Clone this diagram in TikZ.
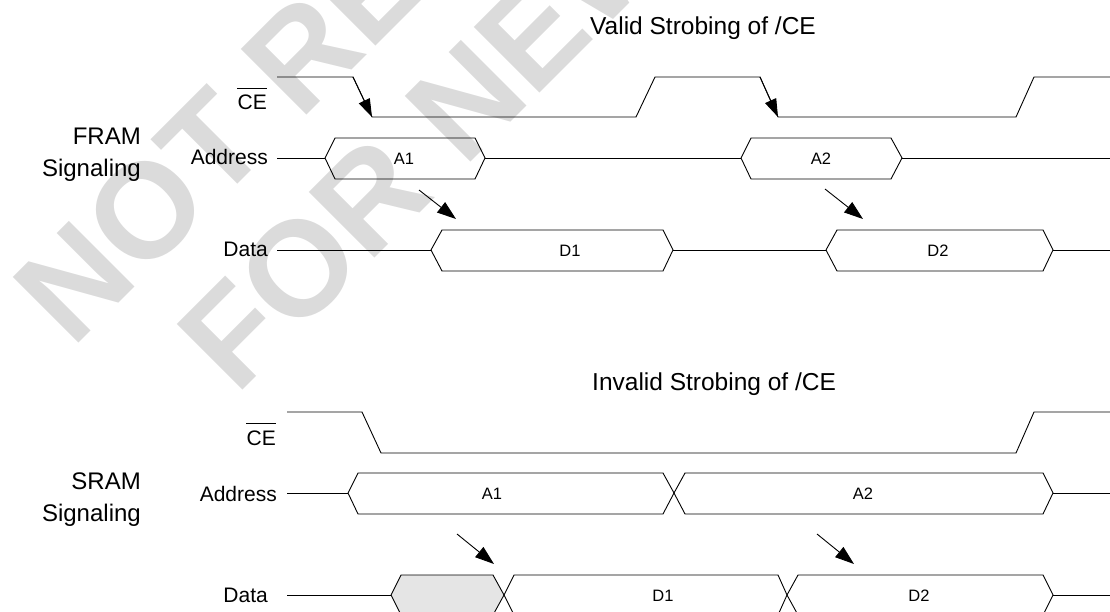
\documentclass[tikz,border=0pt]{standalone}
\usepackage{fontspec}
\setmainfont{Liberation Sans}
\usetikzlibrary{arrows.meta}
\begin{document}
\begin{tikzpicture}[x=1pt,y=-1pt,
  wire/.style={line width=0.9pt, black, line join=miter},
  arrw/.style={line width=0.9pt, -{Triangle[length=19pt,width=13pt]}},
  edgearr/.style={line width=0.9pt, -{Triangle[length=18pt,width=12pt]}},
  rowlbl/.style={font=\fontsize{21}{21}\selectfont, anchor=base east, inner sep=0pt},
  grplbl/.style={font=\fontsize{24}{32}\selectfont, align=right, anchor=north east, inner sep=0pt},
  ttl/.style={font=\fontsize{24.5}{24.5}\selectfont, anchor=base west, inner sep=0pt},
  buslbl/.style={font=\fontsize{16.5}{16.5}\selectfont, inner sep=0pt},
  wm/.style={font=\bfseries\fontsize{135}{135}\selectfont, text=black!14, rotate=45, anchor=base west, inner sep=0pt},
  bar/.style={line width=1pt}]
\useasboundingbox (0,0) rectangle (1110,612);

% watermark
\node[wm] (wm1) at (72,350) {NOT RECOMMENDED};
\node[wm] (wm2) at (236,397) {FOR NEW DESIGN};

% titles
\node[ttl] (t1) at (590,35) {Valid Strobing of /CE};
\node[ttl] (t2) at (592,390) {Invalid Strobing of /CE};

% group labels
\node[grplbl] (g1) at (141,128) {FRAM\\Signaling};
\node[grplbl] (g2) at (141,473) {SRAM\\Signaling};

% row labels
\node[rowlbl] (ce1) at (267,110) {CE};
\draw[bar] ([yshift=6.5pt]ce1.north west) -- ([yshift=6.5pt]ce1.north east);
\node[rowlbl] (ad1) at (268,165) {Address};
\node[rowlbl] (da1) at (268,257) {Data};
\node[rowlbl] (ce2) at (276,445) {CE};
\draw[bar] ([yshift=6.5pt]ce2.north west) -- ([yshift=6.5pt]ce2.north east);
\node[rowlbl] (ad2) at (277,501) {Address};
\node[rowlbl] (da2) at (268,602) {Data};

% ---------- FRAM ----------
\draw[wire] (277,77) -- (353,77) -- (372,117) -- (636,117) -- (655,77) -- (760,77)
  -- (778,117) -- (1016,117) -- (1034,77) -- (1112,77);
\coordinate (f1a) at (353,77); \coordinate (f1b) at (372,117);
\coordinate (f2a) at (760,77); \coordinate (f2b) at (778,117);
\draw[edgearr] (f1a) -- (f1b);
\draw[edgearr] (f2a) -- (f2b);

\draw[wire] (277,158) -- (325,158);
\draw[wire] (325,158) -- (335,138) -- (475,138) -- (485,158) -- (475,179) -- (335,179) -- cycle;
\draw[wire] (485,158) -- (741,158);
\draw[wire] (741,158) -- (751,138) -- (891,138) -- (902,158) -- (891,179) -- (751,179) -- cycle;
\draw[wire] (902,158) -- (1112,158);
\node[buslbl] (fa1) at (404,159) {A1};
\node[buslbl] (fa2) at (821,159) {A2};

\draw[wire] (277,250) -- (431,250);
\draw[wire] (431,250) -- (442,230) -- (663,230) -- (673,250) -- (663,271) -- (442,271) -- cycle;
\draw[wire] (673,250) -- (826,250);
\draw[wire] (826,250) -- (837,230) -- (1043,230) -- (1053,250) -- (1043,271) -- (837,271) -- cycle;
\draw[wire] (1053,250) -- (1112,250);
\node[buslbl] (fd1) at (570,251) {D1};
\node[buslbl] (fd2) at (938,251) {D2};

\coordinate (fs1) at (419,190); \coordinate (fe1) at (456,219);
\coordinate (fs2) at (825,189); \coordinate (fe2) at (863,219);
\draw[arrw] (fs1) -- (fe1);
\draw[arrw] (fs2) -- (fe2);

% ---------- SRAM ----------
\draw[wire] (287,412) -- (362,412) -- (381,453) -- (1016,453) -- (1034,412) -- (1112,412);

\draw[wire] (287,493) -- (348,493);
\draw[wire] (348,493) -- (358,473) -- (663,473) -- (674,493) -- (663,514) -- (358,514) -- cycle;
\draw[wire] (674,493) -- (685,473) -- (1043,473) -- (1053,493) -- (1043,514) -- (685,514) -- cycle;
\draw[wire] (1053,493) -- (1112,493);
\node[buslbl] (sa1) at (492,494) {A1};
\node[buslbl] (sa2) at (863,494) {A2};

\draw[wire] (287,595) -- (391,595);
\draw[wire, fill=black!10] (391,595) -- (401,575) -- (493,575) -- (504,595) -- (493,615) -- (401,615) -- cycle;
\draw[wire] (504,595) -- (514,575) -- (778,575) -- (787,595) -- (778,615) -- (514,615) -- cycle;
\draw[wire] (787,595) -- (798,575) -- (1043,575) -- (1053,595) -- (1043,615) -- (798,615) -- cycle;
\draw[wire] (1053,595) -- (1112,595);
\node[buslbl] (sd1) at (663,596) {D1};
\node[buslbl] (sd2) at (919,596) {D2};

\coordinate (ss1) at (457,534); \coordinate (se1) at (494,564);
\coordinate (ss2) at (817,534); \coordinate (se2) at (854,564);
\draw[arrw] (ss1) -- (se1);
\draw[arrw] (ss2) -- (se2);
\end{tikzpicture}
\end{document}
